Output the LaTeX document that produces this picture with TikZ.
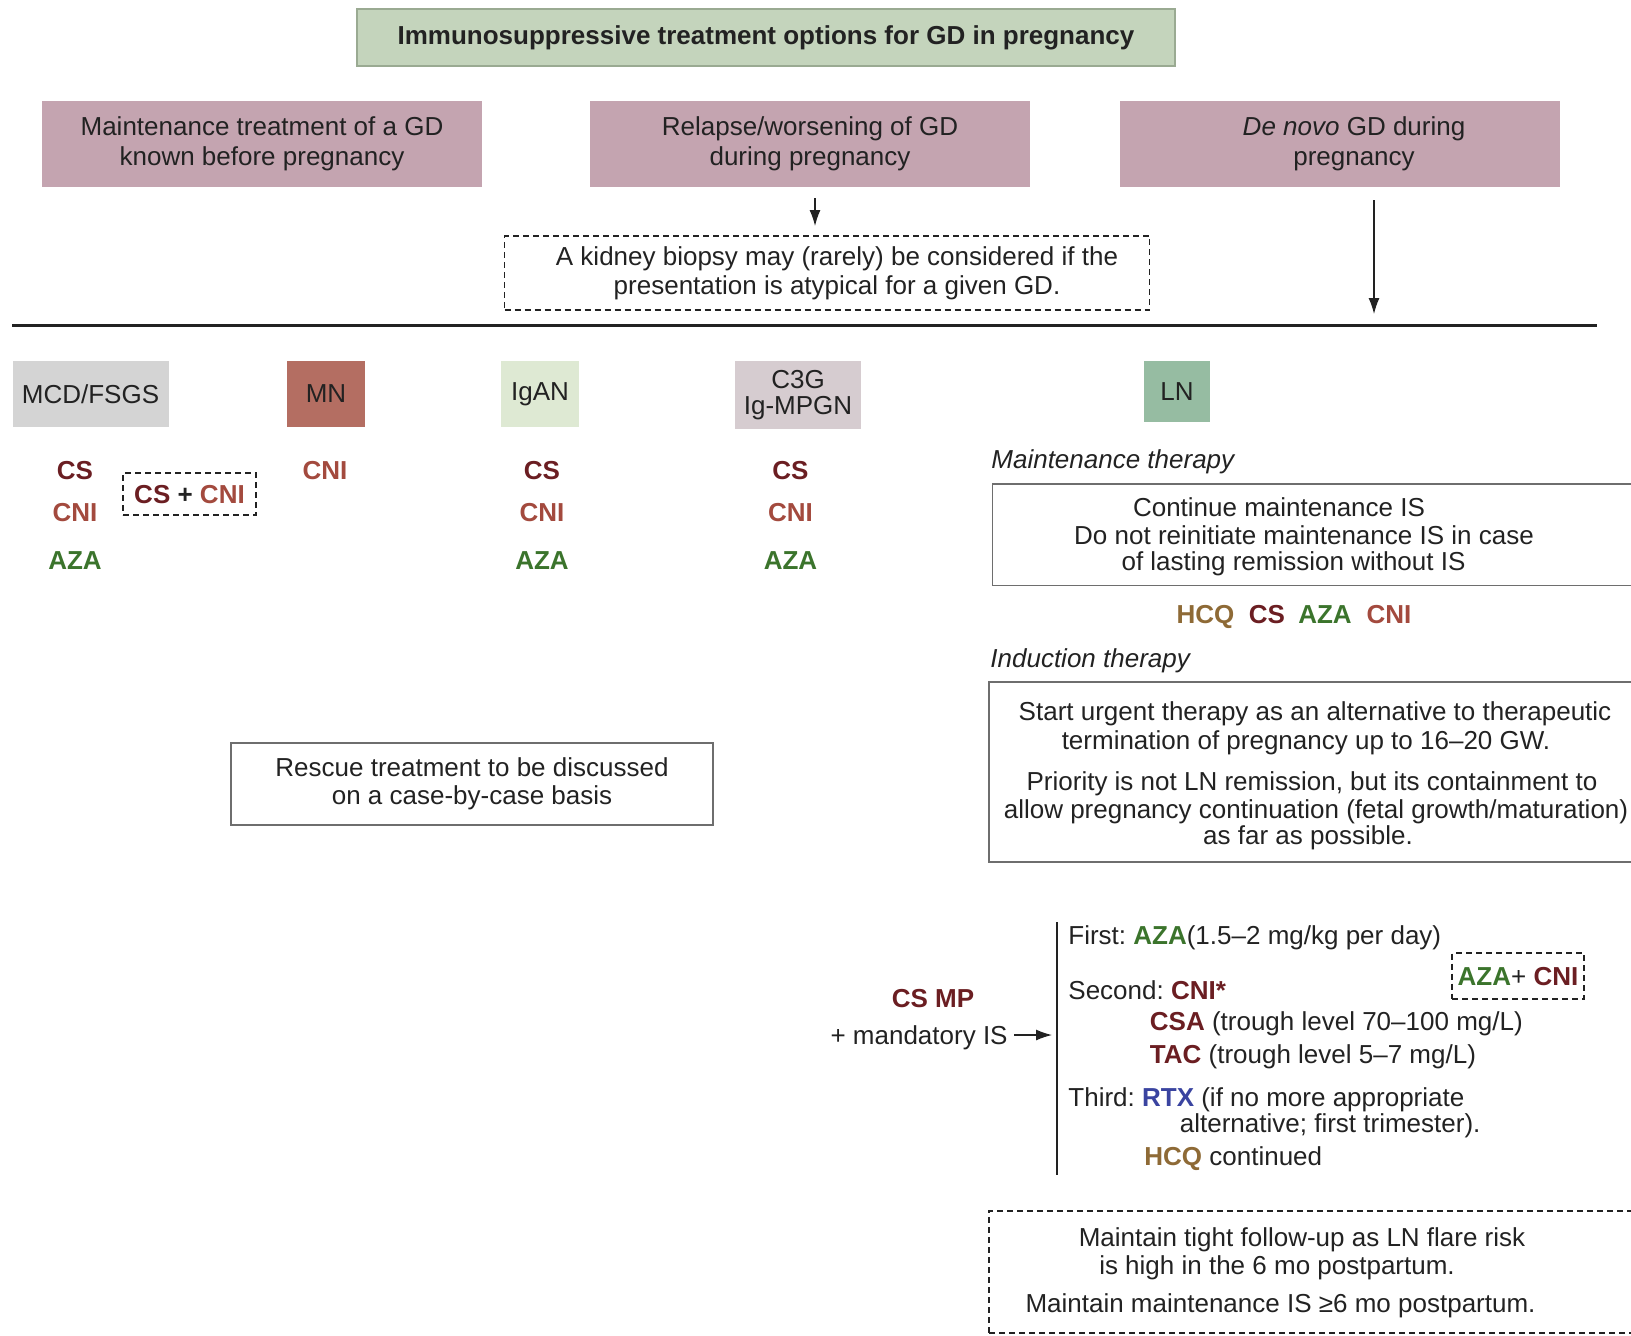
\documentclass[tikz,border=0pt]{standalone}
\usepackage{fontspec}
\setmainfont{Liberation Sans}
\usetikzlibrary{arrows.meta}
\definecolor{txt}{HTML}{222222}
\definecolor{csc}{HTML}{6B1E22}
\definecolor{cnic}{HTML}{A34A3E}
\definecolor{azac}{HTML}{3B742C}
\definecolor{hcqc}{HTML}{8E6A36}
\definecolor{rtxc}{HTML}{3A44A0}
\definecolor{titlef}{HTML}{C4D4BC}
\definecolor{titled}{HTML}{9AAA92}
\definecolor{pinkf}{HTML}{C4A4B0}
\definecolor{grayf}{HTML}{D4D4D4}
\definecolor{mnf}{HTML}{B46E62}
\definecolor{igf}{HTML}{DEE9D3}
\definecolor{c3f}{HTML}{D6CCD0}
\definecolor{lnf}{HTML}{96BCA2}
\definecolor{boxd}{HTML}{6E6E6E}
\newcommand{\myfs}{\fontsize{13}{15}\selectfont}
\newcommand{\mycs}{\textcolor{csc}{\textbf{CS}}}
\newcommand{\mycni}{\textcolor{cnic}{\textbf{CNI}}}
\newcommand{\myaza}{\textcolor{azac}{\textbf{AZA}}}
\newcommand{\myhcq}{\textcolor{hcqc}{\textbf{HCQ}}}
\frenchspacing
\begin{document}
\begin{tikzpicture}[x=0.5pt,y=-0.5pt,
  every node/.style={inner sep=0pt, text=txt, font=\myfs},
  titlebox/.style={draw=titled, line width=0.6pt, fill=titlef, font=\myfs\bfseries, minimum width=409pt, minimum height=28.5pt},
  pinkbox/.style={fill=pinkf, minimum width=220pt, minimum height=43pt, align=center},
  catbox/.style={minimum height=32.75pt, align=center},
  plainbox/.style={draw=boxd, line width=0.8pt},
  dashbox/.style={draw=txt, line width=0.8pt, dash pattern=on 3pt off 2pt},
  drug/.style={font=\myfs\bfseries, text height=9.3pt, text depth=0pt},
  tl/.style={text height=9.3pt, text depth=0pt},
  arr/.style={-{Latex[length=8pt,width=5.5pt]}, line width=0.6pt, draw=txt}]
\useasboundingbox (0,0) rectangle (1631,1335);

% title and situations
\node[titlebox] (title) at (766,37.5) {Immunosuppressive treatment options for GD in pregnancy};
\node[pinkbox] (b1) at (262,144) {Maintenance treatment of a GD\\known before pregnancy};
\node[pinkbox] (b2) at (810,144) {Relapse/worsening of GD\\during pregnancy};
\node[pinkbox] (b3) at (1340,144) {\hspace*{14pt}\textit{De novo} GD during\\\hspace*{14pt}pregnancy};

\node[dashbox, minimum width=322.5pt, minimum height=37pt, align=center, font=\fontsize{13}{14.5}\selectfont] (biopsy) at (827,273)
  {\hspace*{10pt}A kidney biopsy may (rarely) be considered if the\\\hspace*{10pt}presentation is atypical for a given GD.};

\coordinate (a1s) at (815,198);
\coordinate (a1e) at (815,226);
\draw[arr] (a1s) -- (a1e);
\coordinate (a2s) at (1374,200);
\coordinate (a2e) at (1374,314);
\draw[arr] (a2s) -- (a2e);

\coordinate (hl) at (12,325.5);
\coordinate (hr) at (1597,325.5);
\draw[line width=1.5pt, txt] (hl) -- (hr);

% categories
\node[catbox, fill=grayf, minimum width=78pt] (mcd) at (90.5,394) {MCD/FSGS};
\node[catbox, fill=mnf, minimum width=39pt] (mn) at (326,394) {MN};
\node[catbox, fill=igf, minimum width=39.25pt] (igan) at (540,394) {IgAN};
\node[catbox, fill=c3f, minimum width=62.75pt, minimum height=33.75pt, font=\fontsize{13}{13}\selectfont] (c3g) at (798,395) {C3G\\Ig-MPGN};
\node[catbox, fill=lnf, minimum width=33pt, minimum height=30.5pt] (ln) at (1177,391.5) {LN};

% drugs
\node[drug, text=csc] (mcdcs) at (75,470) {CS};
\node[drug, text=cnic] (mcdcni) at (75,512) {CNI};
\node[drug, text=azac] (mcdaza) at (75,560) {AZA};
\node[dashbox, drug, minimum width=66.5pt, minimum height=21pt] (cscni) at (189.5,494) {\mycs{} + \mycni};
\node[drug, text=cnic] (mncni) at (325,470) {CNI};
\node[drug, text=csc] (igcs) at (542,470) {CS};
\node[drug, text=cnic] (igcni) at (542,512) {CNI};
\node[drug, text=azac] (igaza) at (542,560) {AZA};
\node[drug, text=csc] (c3cs) at (790.5,470) {CS};
\node[drug, text=cnic] (c3cni) at (790.5,512) {CNI};
\node[drug, text=azac] (c3aza) at (790.5,560) {AZA};

% rescue
\node[plainbox, minimum width=241.25pt, minimum height=41.15pt, align=center, font=\fontsize{13}{14}\selectfont] (rescue) at (472,784)
  {Rescue treatment to be discussed\\on a case-by-case basis};

% LN maintenance
\node[tl, anchor=west, font=\myfs\itshape] (mth) at (991,459) {Maintenance therapy};
\node[plainbox, minimum width=353.75pt, minimum height=50.8pt] (mbox) at (1346.25,534.8) {};
\node[tl] (m1) at (1279,507) {Continue maintenance IS};
\node[tl] (m2) at (1304,535) {Do not reinitiate maintenance IS in case};
\node[tl] (m3) at (1293.5,561) {of lasting remission without IS};
\node[drug, text=hcqc] (lhcq) at (1205.5,614) {HCQ};
\node[drug, text=csc] (lcs) at (1267,614) {CS};
\node[drug, text=azac] (laza) at (1325,614) {AZA};
\node[drug, text=cnic] (lcni) at (1389,614) {CNI};

% LN induction
\node[tl, anchor=west, font=\myfs\itshape] (ith) at (990,658.5) {Induction therapy};
\node[plainbox, minimum width=355.5pt, minimum height=90pt] (ibox) at (1344.5,772) {};
\node[tl] (i1) at (1315,711.5) {Start urgent therapy as an alternative to therapeutic};
\node[tl] (i2) at (1306,740.5) {termination of pregnancy up to 16–20 GW.};
\node[tl] (i3) at (1312,781) {Priority is not LN remission, but its containment to};
\node[tl] (i4) at (1316,809) {allow pregnancy continuation (fetal growth/maturation)};
\node[tl] (i5) at (1308,835) {as far as possible.};

% induction regimen
\node[drug, text=csc] (csmp) at (933,998.5) {CS MP};
\node[tl, anchor=east] (mand) at (1008,1035) {+ mandatory IS};
\coordinate (vt) at (1057,922);
\coordinate (vb) at (1057,1175);
\draw[line width=0.9pt, txt] (vt) -- (vb);
\draw[arr, shorten <=3pt, shorten >=2.5pt] (mand.east) -- (mand.east -| vt);
\node[tl, anchor=west] (l1) at (1068,935) {First: \myaza(1.5–2 mg/kg per day)};
\node[dashbox, drug, minimum width=66pt, minimum height=22.8pt] (azacni) at (1518,976) {\myaza\textmd{+} \textcolor{csc}{CNI}};
\node[tl, anchor=west] (l2) at (1068,990) {Second: \textcolor{csc}{\textbf{CNI*}}};
\node[tl, anchor=west] (l3) at (1149.5,1021.5) {\textcolor{csc}{\textbf{CSA}} (trough level 70–100 mg/L)};
\node[tl, anchor=west] (l4) at (1149.5,1054) {\textcolor{csc}{\textbf{TAC}} (trough level 5–7 mg/L)};
\node[tl, anchor=west] (l5) at (1068,1097) {Third: \textcolor{rtxc}{\textbf{RTX}} (if no more appropriate};
\node[tl, anchor=west] (l6) at (1179.5,1123.5) {alternative; first trimester).};
\node[tl, anchor=west] (l7) at (1144,1156.5) {\myhcq{} continued};

% postpartum
\node[dashbox, minimum width=355.5pt, minimum height=61pt] (pbox) at (1344.5,1272) {};
\node[tl] (p1) at (1302,1237) {Maintain tight follow-up as LN flare risk};
\node[tl] (p2) at (1277,1265) {is high in the 6 mo postpartum.};
\node[tl] (p3) at (1280.5,1303) {Maintain maintenance IS ≥6 mo postpartum.};
\end{tikzpicture}
\end{document}
